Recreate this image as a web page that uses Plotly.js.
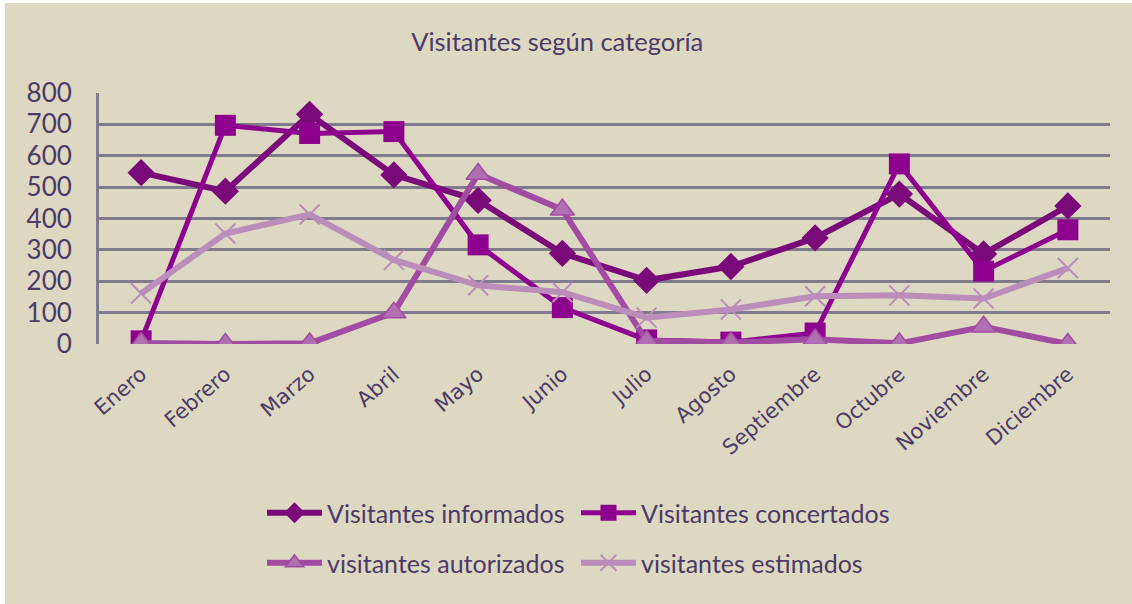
<!DOCTYPE html>
<html>
<head>
<meta charset="utf-8">
<script src="https://cdn.plot.ly/plotly-3.0.1.min.js"></script>
<style>
html,body{margin:0;padding:0;background:#ffffff;width:1132px;height:604px;overflow:hidden;}
#chart{position:absolute;left:5px;top:3px;width:1127px;height:601px;}
</style>
</head>
<body>
<div id="chart"></div>
<script>
const months = ["Enero","Febrero","Marzo","Abril","Mayo","Junio","Julio","Agosto","Septiembre","Octubre","Noviembre","Diciembre"];
const informados  = [546, 487, 732, 539, 458, 289, 203, 247, 338, 478, 287, 440];
const concertados = [10, 697, 671, 677, 316, 116, 13, 6, 35, 574, 232, 364];
const autorizados = [3, 0, 2, 100, 542, 428, 10, 5, 15, 2, 55, 0];
const estimados   = [161, 352, 413, 268, 187, 165, 84, 110, 152, 155, 145, 242];
const yTicks = [0,100,200,300,400,500,600,700,800];

const txt = '#4b3b66';
const fontMain = 'Lato, "Open Sans", sans-serif';

const traces = [
  {name:'Visitantes informados', x:months, y:informados, type:'scatter', mode:'lines+markers',
   line:{color:'#7a0a7a', width:6}, marker:{symbol:'diamond', size:21, color:'#7a0a7a'}, legend:'legend'},
  {name:'Visitantes concertados', x:months, y:concertados, type:'scatter', mode:'lines+markers',
   line:{color:'#8e008e', width:5}, marker:{symbol:'square', size:21, color:'#8e008e'}, legend:'legend2'},
  {name:'visitantes autorizados', x:months, y:autorizados, type:'scatter', mode:'lines+markers',
   line:{color:'#a24ba2', width:6}, marker:{symbol:'triangle-up', size:21, color:'#b06fb0', line:{color:'#a24ba2', width:1.5}}, legend:'legend3'},
  {name:'visitantes estimados', x:months, y:estimados, type:'scatter', mode:'lines+markers',
   line:{color:'#bb8dbb', width:6}, marker:{symbol:'x-thin', size:20, color:'#bb8dbb', line:{color:'#bb8dbb', width:2}}, legend:'legend4'}
];

const plotW = 1127-94-22, plotH = 601-90-260;
function mkLegend(px, py) {
  return {orientation:'h', xanchor:'left', yanchor:'middle', bgcolor:'rgba(0,0,0,0)',
    font:{family:fontMain, size:25, color:txt}, itemwidth:55,
    x:(px-5-94)/plotW, y:(341-py)/plotH};
}

const layout = {
  width:1127, height:601,
  paper_bgcolor:'#ddd8c2', plot_bgcolor:'#ddd8c2',
  margin:{l:94, r:22, t:90, b:260},
  title:{text:'Visitantes según categoría', x:0.49, xanchor:'center', y:0.935, yanchor:'middle',
         font:{family:fontMain, size:25.5, color:txt}},
  showlegend:true,
  xaxis:{type:'category', range:[-0.5, 11.5], showgrid:false, zeroline:false, showline:false,
         tickangle:-41, ticks:'', ticklabelstandoff:13,
         tickfont:{family:'"DejaVu Sans", sans-serif', size:21, color:txt}},
  yaxis:{range:[0,800], tickvals:yTicks, ticktext:yTicks.map(String), showgrid:true,
         gridcolor:'#7f7a8c', gridwidth:3, zeroline:false, showline:true, linecolor:'#7f7a8c', linewidth:3,
         ticks:'', ticklabelstandoff:19, tickfont:{family:fontMain, size:26, color:txt}},
  legend:mkLegend(262, 510),
  legend2:mkLegend(576, 510),
  legend3:mkLegend(262, 560),
  legend4:mkLegend(576, 560)
};

Plotly.newPlot('chart', traces, layout, {displayModeBar:false, staticPlot:true});
</script>
</body>
</html>
